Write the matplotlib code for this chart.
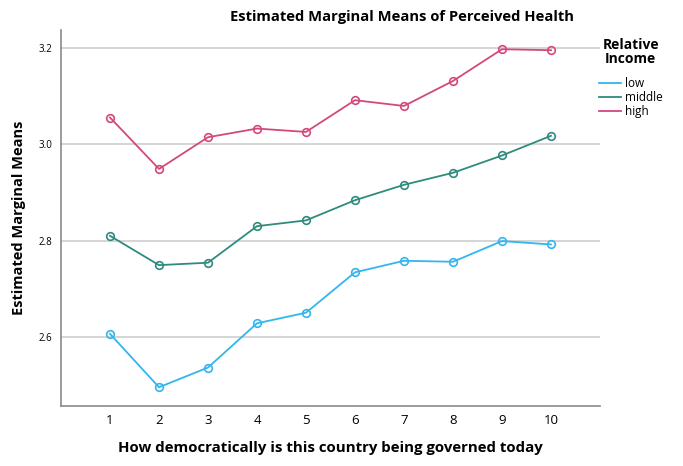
import numpy as np
import matplotlib.pyplot as plt
from matplotlib.lines import Line2D

plt.rcParams['font.family'] = ['Open Sans', 'DejaVu Sans']

# ---- data ----
levels = [1, 2, 3, 4, 5, 6, 7, 8, 9, 10]
low = [2.606, 2.495, 2.536, 2.628, 2.650, 2.734, 2.758, 2.756, 2.799, 2.792]
middle = [2.810, 2.749, 2.754, 2.830, 2.842, 2.884, 2.916, 2.941, 2.977, 3.018]
high = [3.056, 2.949, 3.015, 3.033, 3.026, 3.092, 3.080, 3.132, 3.198, 3.196]
series_names = ["low", "middle", "high"]
y_ticks = [2.6, 2.8, 3.0, 3.2]

colors = {"low": "#33b5ef", "middle": "#2e8b7d", "high": "#d4487d"}

fig = plt.figure(figsize=(6.83, 4.66), dpi=100)
ax = fig.add_axes([61 / 683, 1 - 406 / 466, (600 - 61) / 683, (406 - 30) / 466])

for name, vals in zip(series_names, [low, middle, high]):
    ax.plot(levels, vals, color=colors[name], lw=1.3, marker="o", markersize=5.5,
            markerfacecolor="none", markeredgecolor=colors[name], markeredgewidth=1.2,
            zorder=3)

ax.set_xlim(0, 11)
ax.set_ylim(2.456, 3.238)
ax.set_xticks(levels)
ax.set_xticklabels([str(v) for v in levels], fontsize=9.5)
ax.set_yticks(y_ticks)
ax.set_yticklabels([f"{v:.1f}" for v in y_ticks], fontsize=7)
ax.tick_params(length=0, pad=6)
ax.grid(True, axis="y", color="#d2d2d2", lw=1.3)
ax.set_axisbelow(True)
for s in ["top", "right"]:
    ax.spines[s].set_visible(False)
for s in ["left", "bottom"]:
    ax.spines[s].set_color("#8a8a8a")
    ax.spines[s].set_linewidth(1.2)

ax.set_xlabel("How democratically is this country being governed today",
              fontsize=10.8, fontweight="bold", labelpad=10)
ax.set_ylabel("Estimated Marginal Means", fontsize=10.5, fontweight="bold", labelpad=9)

fig.text(402 / 683, 1 - 17 / 466, "Estimated Marginal Means of Perceived Health",
         ha="center", va="center", fontsize=10.6, fontweight="bold")

handles = [Line2D([0], [0], color=colors[n], lw=1.3) for n in series_names]
leg = fig.legend(handles, series_names, title="Relative\nIncome",
                 loc="upper left", bbox_to_anchor=(594 / 683, 1 - 33 / 466),
                 frameon=False, fontsize=8.5, handlelength=1.9, handletextpad=0.3,
                 labelspacing=0.1, borderaxespad=0)
leg.get_title().set_fontweight("bold")
leg.get_title().set_fontsize(10)
leg.get_title().set_multialignment("center")
leg.get_title().set_linespacing(1.0)
leg._legend_box.align = "center"
leg._legend_box.sep = 8

fig.savefig("out.png", dpi=100)
